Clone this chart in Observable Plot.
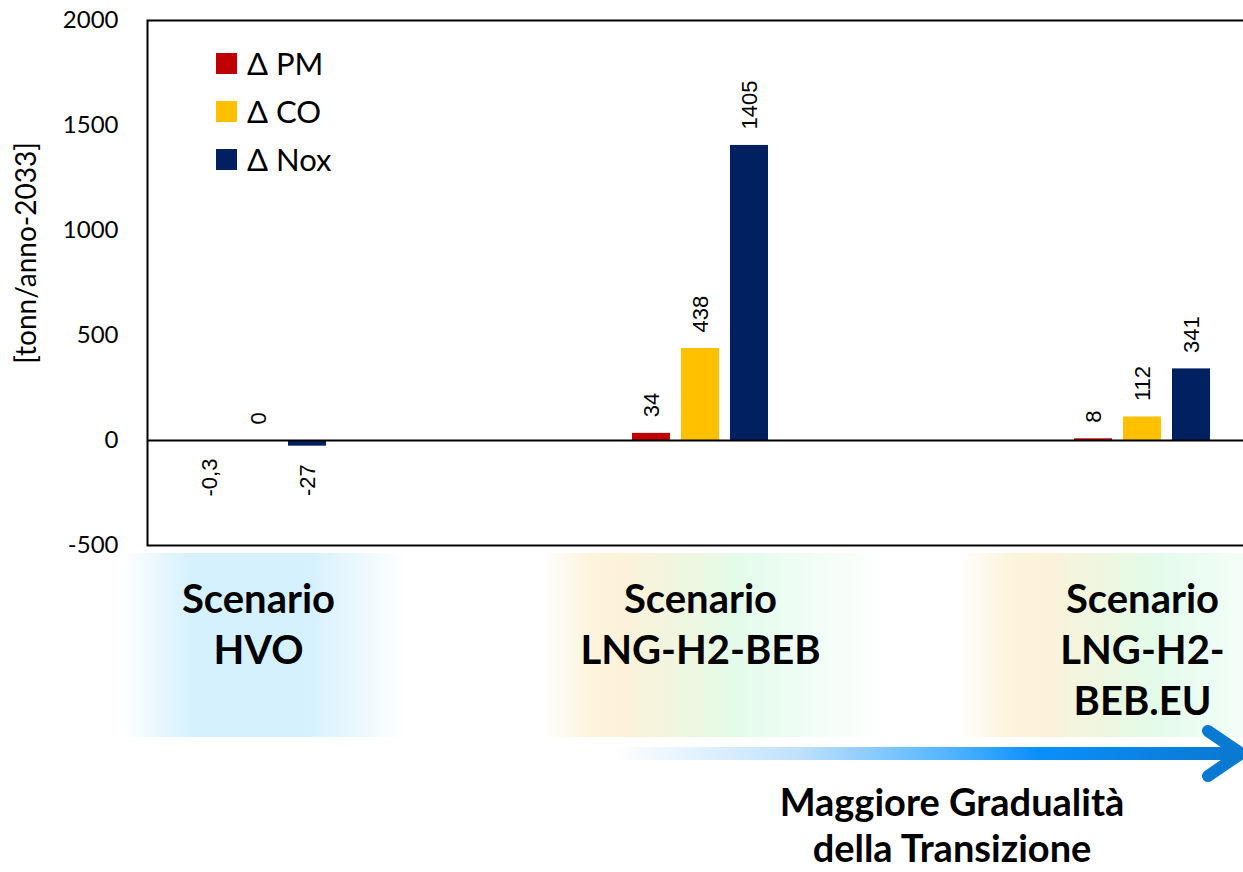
<!DOCTYPE html>
<html><head><meta charset="utf-8">
<script src="https://cdn.jsdelivr.net/npm/d3@7"></script>
<script src="https://cdn.jsdelivr.net/npm/@observablehq/plot@0.6"></script>
<style>
html,body{margin:0;padding:0;background:#fff;overflow:hidden;}
#wrap{position:relative;width:1243px;height:872px;overflow:hidden;font-family:Lato,"DejaVu Sans",sans-serif;}
.box{position:absolute;top:553px;height:184px;}
#b1{left:122px;width:284px;background:linear-gradient(to right,rgba(213,241,253,0) 0%,#d5f1fd 24%,#d5f1fd 66%,rgba(213,241,253,0) 100%);}
#b2{left:540px;width:348px;background:linear-gradient(to right,rgba(253,243,218,0) 0%,#fdf3da 16%,#fbf2d9 26%,#ebf8e2 46%,#e3fbe9 56%,#effdf5 76%,rgba(255,255,255,0) 100%);}
#b3{left:957px;width:348px;background:linear-gradient(to right,rgba(253,243,218,0) 0%,#fdf3da 16%,#fbf2d9 26%,#ebf8e2 46%,#e3fbe9 56%,#effdf5 76%,rgba(255,255,255,0) 100%);}
#chart{position:absolute;left:0;top:0;}
#legend{position:absolute;left:216px;top:39px;}
.lg{display:flex;align-items:center;height:48px;font-size:31px;color:#000;}
.sw{width:21px;height:21px;margin-right:10px;}
#arrow{position:absolute;left:0;top:0;}
#note{position:absolute;left:702px;width:500px;top:778px;text-align:center;font-size:38px;font-weight:700;line-height:46px;color:#000;}
</style></head>
<body><div id="wrap">
<div class="box" id="b1"></div>
<div class="box" id="b2"></div>
<div class="box" id="b3"></div>
<div id="chart"></div>
<div id="legend"></div>
<svg id="arrow" width="1243" height="872" style="pointer-events:none">
  <defs>
    <linearGradient id="shaft" x1="0" x2="1" y1="0" y2="0">
      <stop offset="0" stop-color="#ffffff"/>
      <stop offset="0.3" stop-color="#bfe1fc"/>
      <stop offset="0.55" stop-color="#4db2ff"/>
      <stop offset="0.68" stop-color="#0a90fb"/>
      <stop offset="1" stop-color="#0a78d0"/>
    </linearGradient>
  </defs>
  <rect x="612" y="747" width="624" height="13" fill="url(#shaft)"/>
  <polyline points="1208,731 1241,753.5 1208,776" fill="none" stroke="#0a79d1" stroke-width="12" stroke-linecap="round" stroke-linejoin="round"/>
</svg>
<div id="note">Maggiore Gradualità<br>della Transizione</div>
</div>
<script>
const scenarios = ["HVO", "LNG-H2-BEB", "LNG-H2-BEB.EU"];
const scenarioLabels = ["Scenario\nHVO", "Scenario\nLNG-H2-BEB", "Scenario\nLNG-H2-\nBEB.EU"];
const pollutants = ["Δ PM", "Δ CO", "Δ Nox"];
const colors = ["#c00000", "#ffc000", "#002060"];
const deltaPM = [-0.3, 34, 8];
const deltaCO = [0, 438, 112];
const deltaNOx = [-27, 1405, 341];
const yTicks = [-500, 0, 500, 1000, 1500, 2000];
const yTitle = "[tonn/anno-2033]";

const series = [deltaPM, deltaCO, deltaNOx];
const tables = series.map((vals, i) => scenarios.map((s, j) => ({scenario: s, value: vals[j], pollutant: pollutants[i]})));
const fmt = v => String(v).replace(".", ",");

// bar layout inside each scenario band (band ~136px): bar 38px, step 49px
const insets = [[0, 98], [49, 49], [98, 0]];
const offs = [-49, 0, 49];

const marks = [Plot.frame({stroke: "#000", strokeWidth: 2})];
tables.forEach((t, i) => {
  marks.push(Plot.barY(t, {x: "scenario", y: "value", fill: colors[i], insetLeft: insets[i][0], insetRight: insets[i][1]}));
});
marks.push(Plot.ruleY([0], {stroke: "#000", strokeWidth: 2}));
tables.forEach((t, i) => {
  marks.push(Plot.text(t, {filter: d => d.value >= 0, x: "scenario", y: "value", text: d => fmt(d.value), rotate: -90, textAnchor: "start", dx: offs[i], dy: -16, fontSize: 22, fontFamily: "'Liberation Sans', Arial, sans-serif", fill: "#000"}));
  marks.push(Plot.text(t, {filter: d => d.value < 0, x: "scenario", y: "value", text: d => fmt(d.value), rotate: -90, textAnchor: "end", dx: offs[i], dy: 18, fontSize: 22, fontFamily: "'Liberation Sans', Arial, sans-serif", fill: "#000"}));
});
marks.push(Plot.text(scenarios, {x: d => d, text: (d, i) => scenarioLabels[i], frameAnchor: "bottom", lineAnchor: "top", dy: 31, fontSize: 40, fontWeight: "bold", lineHeight: 1.28, fill: "#000"}));
marks.push(Plot.text([yTitle], {frameAnchor: "left", textAnchor: "middle", rotate: -90, dx: -120, dy: -30, fontSize: 28, fill: "#000"}));

const chart = Plot.plot({
  width: 1253,
  height: 872,
  marginLeft: 147,
  marginRight: 0,
  marginTop: 20,
  marginBottom: 327,
  style: {background: "transparent", maxWidth: "none", fontFamily: "Lato, sans-serif", fontSize: "24px", color: "#000", overflow: "visible"},
  x: {domain: scenarios, paddingInner: 0.692, paddingOuter: 0.097, axis: null},
  y: {domain: [-500, 2000], ticks: yTicks, tickFormat: d => String(d), tickSize: 0, tickPadding: 29, label: null},
  marks
});
document.getElementById("chart").appendChild(chart);

const lg = document.getElementById("legend");
pollutants.forEach((p, i) => {
  const row = document.createElement("div");
  row.className = "lg";
  row.innerHTML = `<div class="sw" style="background:${colors[i]}"></div><span>${p}</span>`;
  lg.appendChild(row);
});
</script>
</body></html>
